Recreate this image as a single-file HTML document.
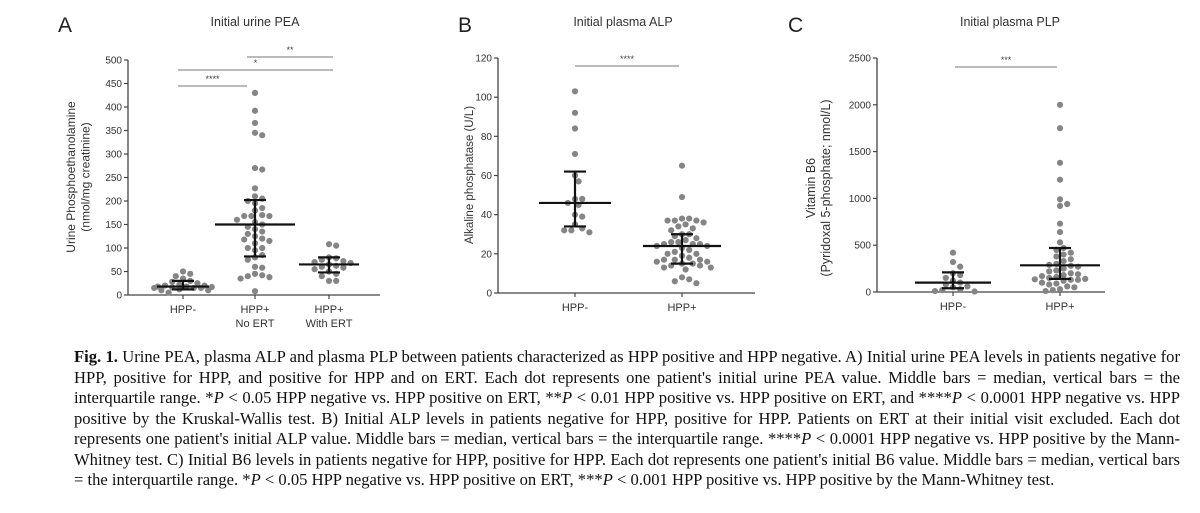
<!DOCTYPE html>
<html><head><meta charset="utf-8"><style>
body{margin:0;background:#fff;width:1200px;height:513px;overflow:hidden;position:relative}
svg{position:absolute;left:0;top:0}
.cap{position:absolute;left:74px;width:1106px;font-family:"Liberation Serif",serif;font-size:16.6px;color:#111;text-align:justify;text-align-last:justify;white-space:nowrap;line-height:20px}
.cap.last{text-align-last:left}
</style></head><body>
<svg id="fig" width="1200" height="340"></svg>
<div class="cap" style="top:347px"><b>Fig. 1.</b> Urine PEA, plasma ALP and plasma PLP between patients characterized as HPP positive and HPP negative. A) Initial urine PEA levels in patients negative for</div>
<div class="cap" style="top:367.5px">HPP, positive for HPP, and positive for HPP and on ERT. Each dot represents one patient's initial urine PEA value. Middle bars = median, vertical bars = the</div>
<div class="cap" style="top:388px">interquartile range. *<i>P</i> &lt; 0.05 HPP negative vs. HPP positive on ERT, **<i>P</i> &lt; 0.01 HPP positive vs. HPP positive on ERT, and ****<i>P</i> &lt; 0.0001 HPP negative vs. HPP</div>
<div class="cap" style="top:408.5px">positive by the Kruskal-Wallis test. B) Initial ALP levels in patients negative for HPP, positive for HPP. Patients on ERT at their initial visit excluded. Each dot</div>
<div class="cap" style="top:429px">represents one patient's initial ALP value. Middle bars = median, vertical bars = the interquartile range. ****<i>P</i> &lt; 0.0001 HPP negative vs. HPP positive by the Mann-</div>
<div class="cap" style="top:449.5px">Whitney test. C) Initial B6 levels in patients negative for HPP, positive for HPP. Each dot represents one patient's initial B6 value. Middle bars = median, vertical bars</div>
<div class="cap last" style="top:470px">= the interquartile range. *<i>P</i> &lt; 0.05 HPP negative vs. HPP positive on ERT, ***<i>P</i> &lt; 0.001 HPP positive vs. HPP positive by the Mann-Whitney test.</div>
<script>
// Panel A data
const aCategories = [["HPP-"],["HPP+","No ERT"],["HPP+","With ERT"]];
const aHppNeg = [50,45,40,35,30,28,25,22,20,20,18,18,17,16,15,15,15,12,10,10,5];
const aHppPosNoErt = [430,392,366,345,340,270,267,227,210,205,200,195,185,180,170,168,168,168,160,155,150,145,140,135,130,125,120,118,115,110,100,100,95,85,80,75,60,58,45,42,40,38,35,8];
const aHppPosErt = [108,105,80,78,75,72,70,68,65,62,60,58,55,50,45,40,30,30];
const aMedians = [18,150,65];
const aQ1 = [12,82,48];
const aQ3 = [30,202,80];
const aTicks = [0,50,100,150,200,250,300,350,400,450,500];
// Panel B data
const bCategories = [["HPP-"],["HPP+"]];
const bHppNeg = [103,92,84,71,60,57,48,48,46,45,40,39,35,33,32,31,32];
const bHppPos = [65,49,38,38,37,37,37,36,35,34,33,32,30,30,29,28,27,26,26,25,25,25,24,24,23,22,21,20,20,19,18,17,17,17,16,16,15,15,14,14,13,13,12,8,7,6,5];
const bMedians = [46,24];
const bQ1 = [34,15];
const bQ3 = [62,30];
const bTicks = [0,20,40,60,80,100,120];
// Panel C data
const cCategories = [["HPP-"],["HPP+"]];
const cHppNeg = [420,320,270,200,180,150,120,100,80,60,50,30,20,10,5];
const cHppPos = [2000,1750,1380,1200,990,940,920,730,640,530,470,450,420,400,380,350,330,300,290,280,270,250,230,220,200,190,180,170,160,150,140,135,130,130,120,100,90,80,60,50,30,20,10];
const cMedians = [100,285];
const cQ1 = [40,140];
const cQ3 = [210,470];
const cTicks = [0,500,1000,1500,2000,2500];

const NS="http://www.w3.org/2000/svg";
const svg=document.getElementById('fig');
function el(tag,attrs,parent){const e=document.createElementNS(NS,tag);for(const k in attrs)e.setAttribute(k,attrs[k]);(parent||svg).appendChild(e);return e;}
function txt(s,attrs,parent){const t=el('text',Object.assign({'font-family':'Liberation Sans, sans-serif',fill:'#333'},attrs),parent);t.textContent=s;return t;}

function panel(cfg){
  const g=el('g',{});
  
  
  const y=v=>cfg.y0-(v-0)/cfg.max*(cfg.y0-cfg.yTop);
  const L=txt(cfg.letter,{x:cfg.letterX,y:32,'font-size':21,fill:'#222'},g);
  
  const T=txt(cfg.title,{x:cfg.titleX,y:26,'font-size':12.5,'text-anchor':'middle'},g);
  
  const ya=el('line',{x1:cfg.ax,x2:cfg.ax,y1:cfg.yTop,y2:cfg.y0,stroke:'#444','stroke-width':1.3},g);
  
  const xa=el('line',{x1:cfg.ax,x2:cfg.axEnd,y1:cfg.y0,y2:cfg.y0,stroke:'#444','stroke-width':1.3},g);
  
  cfg.ticks.forEach(t=>{
    el('line',{x1:cfg.ax-4,x2:cfg.ax,y1:y(t),y2:y(t),stroke:'#444','stroke-width':1.2},g);
    const tl=txt(String(t),{x:cfg.ax-6,y:y(t)+3.5,'font-size':10,'text-anchor':'end'},g);
    
  });
  const yt=txt('',{transform:`translate(${cfg.ytX},${cfg.ytY}) rotate(-90)`,'font-size':cfg.ytSize,'text-anchor':'middle'},g);
  
  cfg.ytLines.forEach((s,i)=>{const ts=el('tspan',{x:0,dy:i?cfg.ytSize*1.2:0},yt);ts.textContent=s;});
  cfg.groups.forEach((vals,gi)=>{
    const cx=cfg.xs[gi];
    el('line',{x1:cx,x2:cx,y1:cfg.y0,y2:cfg.y0+4,stroke:'#444','stroke-width':1.2},g);
    cfg.cats[gi].forEach((s,li)=>{
      const c=txt(s,{x:cx,y:cfg.y0+18+li*14,'font-size':11,'text-anchor':'middle'},g);
      
    });
    const placed=[];const r=3.1,d=6.6,cap=30,step=3.6;
    [...vals].sort((a,b)=>b-a).forEach(v=>{
      const py=y(v);let best=0,bestD=-1;
      for(let k=0;k<40;k++){
        const cand=k===0?0:(k%2?1:-1)*Math.ceil(k/2)*step;
        if(Math.abs(cand)>cap)break;
        const md=placed.reduce((m,p)=>Math.min(m,Math.hypot(p[0]-(cx+cand),p[1]-py)),1e9);
        if(md>=d-0.3){best=cand;bestD=1e9;break;}
        if(md>bestD){bestD=md;best=cand;}
      }
      placed.push([cx+best,py]);
      const dot=el('circle',{cx:cx+best,cy:py,r:r,fill:'#858585'},g);
      
    });
    const hw=cfg.medHW[gi];
    const m=el('line',{x1:cx-hw,x2:cx+hw,y1:y(cfg.med[gi]),y2:y(cfg.med[gi]),stroke:'#111','stroke-width':2.2},g);
    
    const iq=el('line',{x1:cx,x2:cx,y1:y(cfg.q1[gi]),y2:y(cfg.q3[gi]),stroke:'#111','stroke-width':2.2},g);
    
    [cfg.q1[gi],cfg.q3[gi]].forEach(q=>el('line',{x1:cx-11,x2:cx+11,y1:y(q),y2:y(q),stroke:'#111','stroke-width':2.2},g));
  });
  cfg.sig.forEach(s=>{
    const sl=el('line',{x1:s[0],x2:s[1],y1:s[2],y2:s[2],stroke:'#777','stroke-width':1.1},g);
    
    const st=txt(s[3],{x:(s[0]+s[1])/2,y:s[2]-4,'font-size':9,'text-anchor':'middle',fill:'#444'},g);
    
  });
}
panel({name:'panel-a-urine-pea',letter:'A',letterX:58,title:'Initial urine PEA',titleX:255,ax:128,axEnd:380,yTop:60,y0:295,max:500,ticks:aTicks,
  ytX:75,ytY:177,ytSize:12,ytLines:['Urine Phosphoethanolamine','(nmol/mg creatinine)'],
  groups:[aHppNeg,aHppPosNoErt,aHppPosErt],cats:aCategories,xs:[183,255,329],med:aMedians,q1:aQ1,q3:aQ3,medHW:[26,40,30],
  sig:[[178,247,86,'****'],[178,333,70,'*'],[247,333,57,'**']]});
panel({name:'panel-b-plasma-alp',letter:'B',letterX:458,title:'Initial plasma ALP',titleX:623,ax:498,axEnd:755,yTop:58,y0:293,max:120,ticks:bTicks,
  ytX:473,ytY:175,ytSize:11.5,ytLines:['Alkaline phosphatase (U/L)'],
  groups:[bHppNeg,bHppPos],cats:bCategories,xs:[575,682],med:bMedians,q1:bQ1,q3:bQ3,medHW:[36,39],
  sig:[[575,679,66,'****']]});
panel({name:'panel-c-plasma-plp',letter:'C',letterX:788,title:'Initial plasma PLP',titleX:1010,ax:877,axEnd:1105,yTop:58,y0:292,max:2500,ticks:cTicks,
  ytX:815,ytY:188,ytSize:12.5,ytLines:['Vitamin B6','(Pyridoxal 5-phosphate; nmol/L)'],
  groups:[cHppNeg,cHppPos],cats:cCategories,xs:[953,1060],med:cMedians,q1:cQ1,q3:cQ3,medHW:[38,40],
  sig:[[955,1057,67,'***']]});
</script>
</body></html>
